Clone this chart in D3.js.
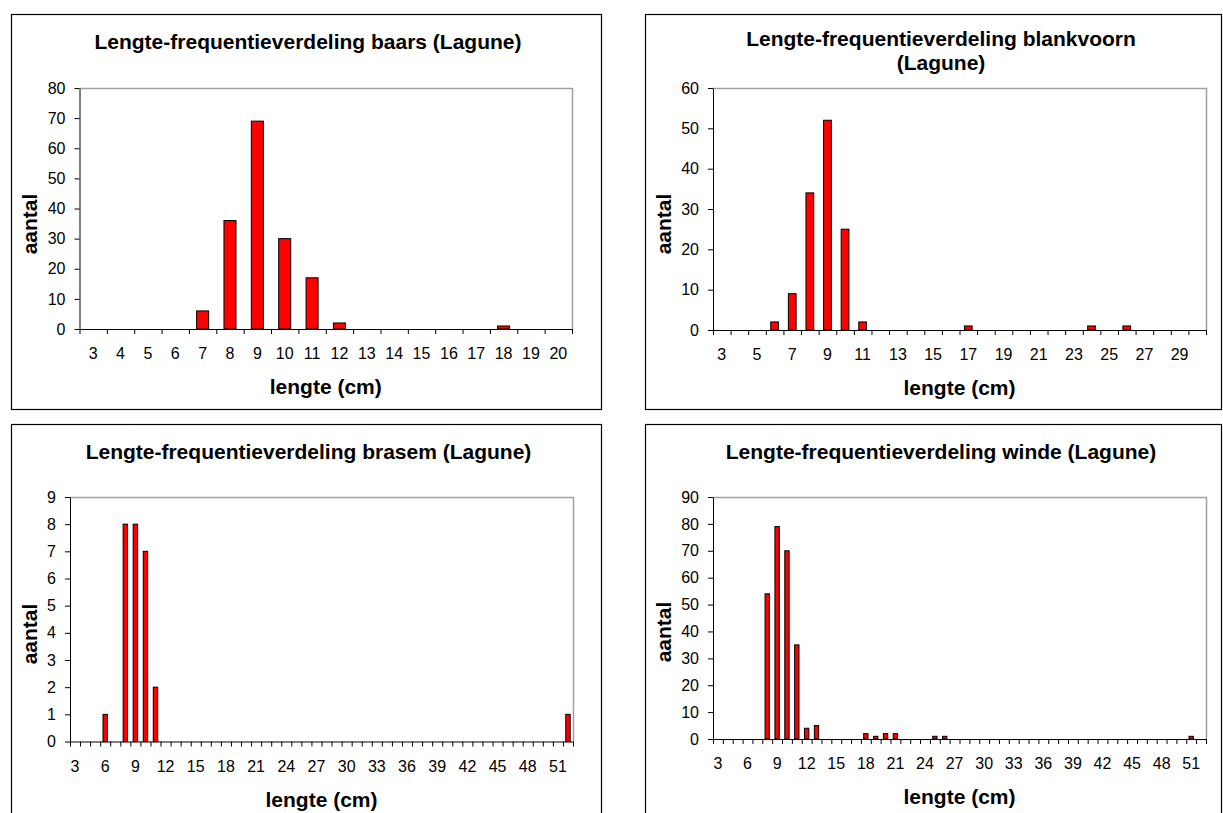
<!DOCTYPE html>
<html>
<head>
<meta charset="utf-8">
<script src="https://cdn.jsdelivr.net/npm/d3@7"></script>
<style>
  body { margin: 0; background: #fff; }
  svg text { font-family: 'Liberation Sans', Arial, sans-serif; fill: #000; }
  .tick text { font-size: 16px; }
  .bold-label { font-weight: bold; font-size: 21px; }
</style>
</head>
<body>
<svg id="viz" width="1223" height="813"></svg>
<script>
'use strict'

// lengteklassen (cm) met een vangst > 0, en het aantal per klasse
const baarsLengte = [7, 8, 9, 10, 11, 12, 18]
const baarsAantal = [6, 36, 69, 30, 17, 2, 1]

const blankvoornLengte = [6, 7, 8, 9, 10, 11, 17, 24, 26]
const blankvoornAantal = [2, 9, 34, 52, 25, 2, 1, 1, 1]

const brasemLengte = [6, 8, 9, 10, 11, 52]
const brasemAantal = [1, 8, 8, 7, 2, 1]

const windeLengte = [8, 9, 10, 11, 12, 13, 18, 19, 20, 21, 25, 26, 51]
const windeAantal = [54, 79, 70, 35, 4, 5, 2, 1, 2, 2, 1, 1, 1]

// as-bereik per grafiek: [eerste klasse, laatste klasse], y-max en stap
const klasseBereik = [[3, 20], [3, 30], [3, 52], [3, 52]]
const labelStap = [1, 2, 3, 3]
const yMax = [80, 60, 9, 90]
const yStap = [10, 10, 1, 10]

const titels = [
  ['Lengte-frequentieverdeling baars (Lagune)'],
  ['Lengte-frequentieverdeling blankvoorn', '(Lagune)'],
  ['Lengte-frequentieverdeling brasem (Lagune)'],
  ['Lengte-frequentieverdeling winde (Lagune)']
]
const xTitel = 'lengte (cm)'
const yTitel = 'aantal'

const BAR_FRAC = 0.44

// layout of the four chart objects
const panels = [
  { frame: [11, 14, 601, 409], plot: { left: 79.5, right: 572, top: 88, bottom: 329 }, titleX: 308, titleY: [49], yLabelY: 224,
    lengte: baarsLengte, aantal: baarsAantal },
  { frame: [645, 14, 1221, 409], plot: { left: 713, right: 1206, top: 88, bottom: 330 }, titleX: 941, titleY: [46, 70], yLabelY: 224,
    lengte: blankvoornLengte, aantal: blankvoornAantal },
  { frame: [11, 424, 601, 840], plot: { left: 70, right: 573, top: 497, bottom: 741.5 }, titleX: 308.5, titleY: [459], yLabelY: 634,
    lengte: brasemLengte, aantal: brasemAantal },
  { frame: [645, 424, 1221, 840], plot: { left: 713, right: 1206, top: 497, bottom: 739 }, titleX: 941, titleY: [459], yLabelY: 632,
    lengte: windeLengte, aantal: windeAantal }
]

/**
 * Draws one length-frequency chart.
 *
 * @param {*} svg The d3 selection of the svg
 * @param {object} p The panel layout and data
 * @param {number} k Index of the panel
 */
function drawPanel (svg, p, k) {
  const g = svg.append('g').attr('class', 'panel')
  const pl = p.plot

  g.append('rect')
    .attr('x', p.frame[0] + 0.5)
    .attr('y', p.frame[1] + 0.5)
    .attr('width', p.frame[2] - p.frame[0])
    .attr('height', p.frame[3] - p.frame[1])
    .attr('fill', 'none')
    .attr('stroke', '#000')
    .attr('stroke-width', 1.2)

  const cats = d3.range(klasseBereik[k][0], klasseBereik[k][1] + 1)
  const x = d3.scaleBand().domain(cats).range([pl.left, pl.right]).padding(0)
  const y = d3.scaleLinear().domain([0, yMax[k]]).range([pl.bottom, pl.top])

  // grey top and right edge of the plot area
  g.append('path')
    .attr('d', 'M' + pl.left + ',' + (pl.top + 0.5) + 'H' + (pl.right + 0.5) + 'V' + pl.bottom)
    .attr('fill', 'none')
    .attr('stroke', '#a0a0a0')
    .attr('stroke-width', 1.5)

  const data = p.lengte.map((l, i) => ({ l: l, n: p.aantal[i] }))
  g.selectAll('rect.bar')
    .data(data)
    .join('rect')
    .attr('class', 'bar')
    .attr('x', d => x(d.l) + x.bandwidth() * (1 - BAR_FRAC) / 2)
    .attr('width', x.bandwidth() * BAR_FRAC)
    .attr('y', d => y(d.n))
    .attr('height', d => y(0) - y(d.n))
    .attr('fill', '#ff0000')
    .attr('stroke', '#000')
    .attr('stroke-width', 1)

  // y axis
  g.append('g')
    .attr('transform', 'translate(' + pl.left + ',0)')
    .call(d3.axisLeft(y)
      .tickValues(d3.range(0, yMax[k] + yStap[k] / 2, yStap[k]))
      .tickSize(5).tickSizeOuter(0).tickPadding(9))

  // tick marks on the class boundaries
  const xb = d3.scaleLinear().domain([0, cats.length]).range([pl.left, pl.right])
  g.append('g')
    .attr('transform', 'translate(0,' + pl.bottom + ')')
    .call(d3.axisBottom(xb)
      .tickValues(d3.range(cats.length + 1))
      .tickSize(5).tickSizeOuter(0).tickFormat(''))

  // class labels
  g.append('g')
    .attr('transform', 'translate(0,' + pl.bottom + ')')
    .call(d3.axisBottom(x)
      .tickValues(cats.filter((c, i) => i % labelStap[k] === 0))
      .tickSize(0).tickPadding(19))
    .call(a => a.select('.domain').remove())

  g.selectAll('.domain, .tick line').attr('stroke', '#000')

  // titles
  titels[k].forEach((t, i) => {
    g.append('text')
      .attr('class', 'bold-label')
      .attr('x', p.titleX)
      .attr('y', p.titleY[i])
      .attr('text-anchor', 'middle')
      .text(t)
  })

  g.append('text')
    .attr('class', 'bold-label')
    .attr('x', (pl.left + pl.right) / 2)
    .attr('y', pl.bottom + 65)
    .attr('text-anchor', 'middle')
    .text(xTitel)

  g.append('text')
    .attr('class', 'bold-label')
    .attr('transform', 'translate(' + (p.frame[0] + 26) + ',' + p.yLabelY + ') rotate(-90)')
    .attr('text-anchor', 'middle')
    .text(yTitel)
}

(function (d3) {
  const svg = d3.select('#viz')
  panels.forEach((p, k) => drawPanel(svg, p, k))
})(d3)
</script>
</body>
</html>
